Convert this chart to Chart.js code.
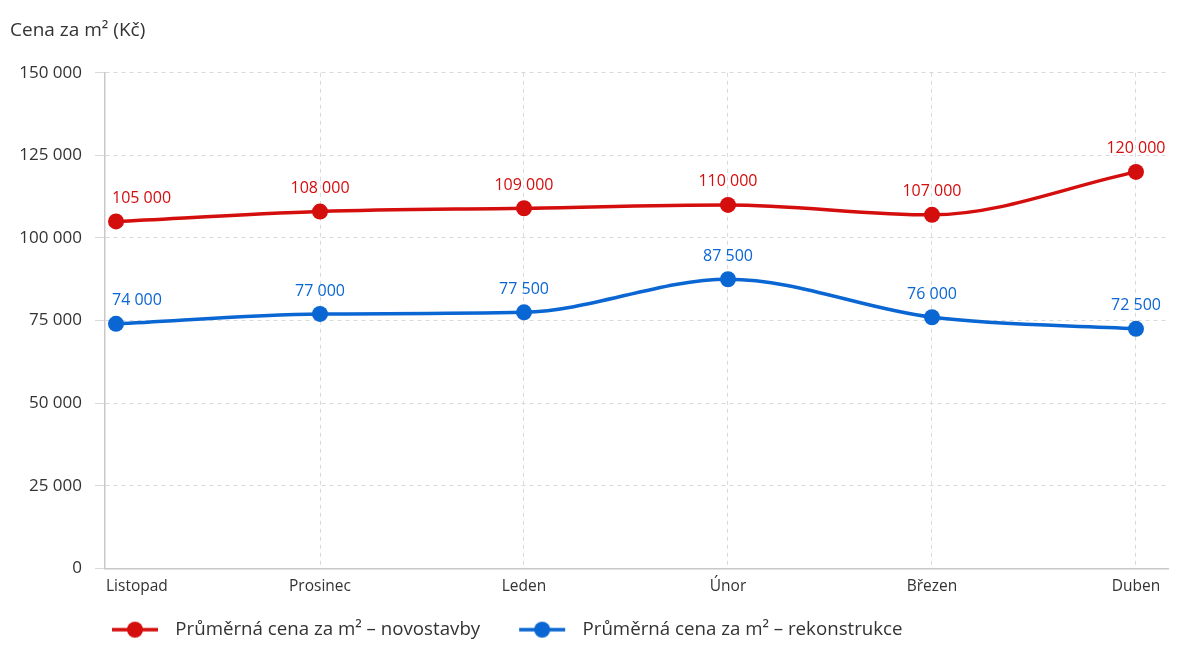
<!DOCTYPE html>
<html>
<head>
<meta charset="utf-8">
<script src="https://cdn.jsdelivr.net/npm/chart.js@4/dist/chart.umd.min.js"></script>
<style>
  html, body { margin: 0; padding: 0; background: #fff; }
  #chart { display: block; }
</style>
</head>
<body>
<canvas id="chart" width="1200" height="659"></canvas>
<script>
const months = ["Listopad", "Prosinec", "Leden", "Únor", "Březen", "Duben"];
const novostavby = [105000, 108000, 109000, 110000, 107000, 120000];
const rekonstrukce = [74000, 77000, 77500, 87500, 76000, 72500];
const seriesNames = [
  "Průměrná cena za m² – novostavby",
  "Průměrná cena za m² – rekonstrukce",
];
const yTicks = [0, 25000, 50000, 75000, 100000, 125000, 150000];

const RED = "#d40d0d";
const BLUE = "#0a66d2";
const FONT = '"Open Sans", sans-serif';

function fmt(n) {
  return String(n).replace(/\B(?=(\d{3})+(?!\d))/g, " ");
}

function legendMarker(color) {
  const c = document.createElement("canvas");
  c.width = 83;
  c.height = 18;
  const g = c.getContext("2d");
  g.strokeStyle = color;
  g.lineWidth = 3.5;
  g.beginPath();
  g.moveTo(29, 9);
  g.lineTo(75, 9);
  g.stroke();
  g.fillStyle = color;
  g.beginPath();
  g.arc(52, 9, 8, 0, Math.PI * 2);
  g.fill();
  return c;
}

// value labels above points
const valueLabels = {
  id: "valueLabels",
  afterDatasetsDraw(chart) {
    const ctx = chart.ctx;
    ctx.save();
    ctx.font = "16px " + FONT;
    ctx.textBaseline = "middle";
    chart.data.datasets.forEach((ds, di) => {
      chart.getDatasetMeta(di).data.forEach((pt, i) => {
        ctx.fillStyle = ds.borderColor;
        ctx.textAlign = i === 0 ? "left" : "center";
        ctx.fillText(fmt(ds.data[i].y), i === 0 ? pt.x - 4 : pt.x, pt.y - 23);
      });
    });
    ctx.restore();
  },
};

// legend lines up under the plot, first month label starts at the axis
const layoutTweaks = {
  id: "layoutTweaks",
  afterLayout(chart) {
    if (chart.legend) chart.legend.left = 73;
    const xs = chart.scales.x;
    const items = xs.getLabelItems(chart.chartArea);
    if (items.length) {
      items[0].options.textAlign = "left";
      items[0].options.translation[0] = chart.chartArea.left + 1;
    }
  },
};

const toPoints = (arr) => arr.map((v, i) => ({ x: i, y: v }));

new Chart(document.getElementById("chart"), {
  type: "line",
  data: {
    datasets: [
      {
        label: seriesNames[0],
        data: toPoints(novostavby),
        borderColor: RED,
        backgroundColor: RED,
      },
      {
        label: seriesNames[1],
        data: toPoints(rekonstrukce),
        borderColor: BLUE,
        backgroundColor: BLUE,
      },
    ],
  },
  options: {
    responsive: false,
    animation: false,
    layout: { padding: { top: 10, left: 10, right: 32, bottom: 10 } },
    elements: {
      line: { borderWidth: 3.5, cubicInterpolationMode: "monotone" },
      point: { radius: 8, hoverRadius: 8, borderWidth: 0 },
    },
    scales: {
      x: {
        type: "linear",
        min: -0.054,
        max: 5.157,
        afterBuildTicks: (scale) => {
          scale.ticks = months.map((m, i) => ({ value: i }));
        },
        afterFit: (scale) => {
          scale.height = 42;
        },
        ticks: {
          padding: 9,
          color: "#333",
          font: { family: FONT, size: 15.5 },
          callback: (v) => months[v],
          maxRotation: 0,
        },
        grid: {
          color: (c) => (c.index === 0 ? "rgba(0,0,0,0)" : "#d9d9d9"),
          drawTicks: false,
        },
        border: { color: "#c8c8c8", width: 1.5, dash: [4, 4] },
      },
      y: {
        min: 0,
        max: 150000,
        afterBuildTicks: (scale) => {
          scale.ticks = yTicks.map((v) => ({ value: v }));
        },
        afterFit: (scale) => {
          scale.width = 95;
        },
        ticks: {
          padding: 13,
          color: "#333",
          font: { family: FONT, size: 17 },
          callback: (v) => fmt(v),
        },
        grid: {
          color: "#d9d9d9",
          tickLength: 10,
        },
        border: { color: "#c8c8c8", width: 1.5, dash: [4, 4] },
      },
    },
    plugins: {
      title: {
        display: true,
        text: "Cena za m² (Kč)",
        align: "start",
        color: "#333",
        font: { family: FONT, size: 19, weight: "normal" },
        padding: { top: 9, bottom: 31 },
      },
      legend: {
        position: "bottom",
        align: "start",
        labels: {
          usePointStyle: true,
          pointStyleWidth: 83,
          padding: 10,
          color: "#333",
          font: { family: FONT, size: 18.7 },
          generateLabels: (chart) =>
            chart.data.datasets.map((ds, i) => ({
              text: ds.label,
              datasetIndex: i,
              fillStyle: ds.borderColor,
              strokeStyle: ds.borderColor,
              fontColor: "#333",
              lineWidth: 0,
              hidden: false,
              pointStyle: legendMarker(ds.borderColor),
            })),
        },
      },
      tooltip: { enabled: false },
    },
  },
  plugins: [valueLabels, layoutTweaks],
});
</script>
</body>
</html>
